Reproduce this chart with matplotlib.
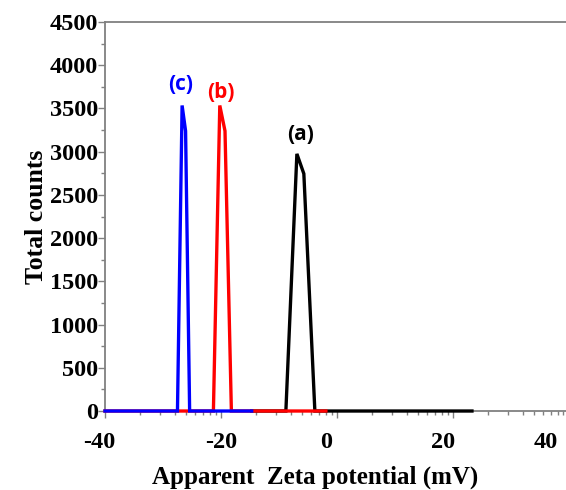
import numpy as np
import matplotlib.pyplot as plt
from matplotlib.ticker import FixedLocator, MultipleLocator
from matplotlib.transforms import ScaledTranslation

plt.rcParams['axes.unicode_minus'] = False

# zeta potential distributions
x_a = [-14.7, -8.8, -6.9, -5.7, -3.8, 23.3]
y_a = [0, 0, 2975, 2745, 0, 0]
x_b = [-40, -21.3, -20.2, -19.3, -18.2, -1.9]
y_b = [0, 0, 3535, 3240, 0, 0]
x_c = [-40, -27.5, -26.7, -26.1, -25.4, -14.7]
y_c = [0, 0, 3535, 3240, 0, 0]

labels = ["(a)", "(b)", "(c)"]
label_pos = [(-6.2, 3195), (-20.0, 3680), (-26.9, 3772)]
colors = ["black", "red", "blue"]

xticks = [-40, -20, 0, 20, 40]
xtick_shift = [-6, 0, -11, -10, -23]   # labels sit a little left of their ticks

fig = plt.figure(figsize=(5.66, 4.90), dpi=100)
# axis runs a few pixels past the right edge of the picture
ax = fig.add_axes([0.1855, 0.1612, 0.8225, 0.7938])

for xs, ys, c in zip([x_a, x_b, x_c], [y_a, y_b, y_c], colors):
    ax.plot(xs, ys, color=c, lw=2.4, solid_joinstyle="miter", clip_on=False, zorder=3)

for t, (lx, ly), c in zip(labels, label_pos, colors):
    ax.text(lx, ly, t, color=c, fontsize=15, fontweight="bold",
            family="Open Sans", ha="center", va="center")

ax.set_xlim(-40, 40.3)
ax.set_ylim(0, 4500)
ax.xaxis.set_major_locator(FixedLocator(xticks))
minor = []
for start in [-40, -20, 0, 20]:
    minor += [start + 20 * np.log10(k) for k in range(2, 10)]
ax.xaxis.set_minor_locator(FixedLocator(minor))
ax.yaxis.set_major_locator(MultipleLocator(500))
ax.yaxis.set_minor_locator(MultipleLocator(250))

ax.spines["right"].set_visible(False)
for s in ["left", "bottom", "top"]:
    ax.spines[s].set_color("#808080")
    ax.spines[s].set_linewidth(1.3)

ax.tick_params(which="both", color="#808080", width=1, top=False)
ax.tick_params(which="major", length=5)
ax.tick_params(which="minor", length=3)
ax.tick_params(axis="x", pad=10)
ax.tick_params(axis="y", pad=0)
for lab in ax.get_xticklabels() + ax.get_yticklabels():
    lab.set_family("Liberation Serif")
    lab.set_fontweight("bold")
    lab.set_fontsize(17.5)
for lab, dx in zip(ax.get_xticklabels(), xtick_shift):
    lab.set_transform(lab.get_transform() + ScaledTranslation(dx / 100, 0, fig.dpi_scale_trans))

ax.set_xlabel("Apparent  Zeta potential (mV)", family="Liberation Serif",
              fontweight="bold", fontsize=18)
ax.xaxis.set_label_coords(0.451, -0.141)
ax.set_ylabel("Total counts", family="Liberation Serif",
              fontweight="bold", fontsize=18.5, labelpad=1)

fig.savefig("out.png", dpi=100)
